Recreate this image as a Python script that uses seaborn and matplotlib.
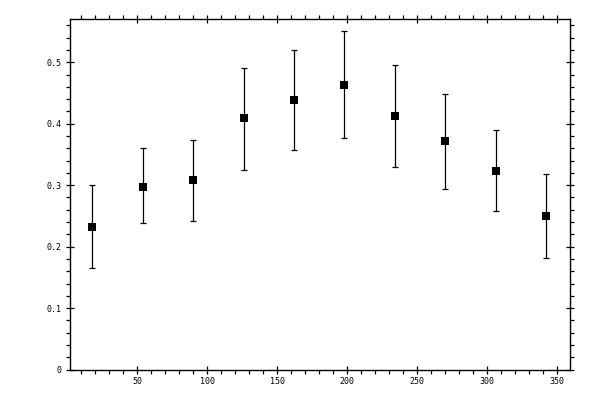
import numpy as np
import pandas as pd
import matplotlib
matplotlib.use("Agg")
import matplotlib.pyplot as plt
import seaborn as sns
from matplotlib.ticker import MultipleLocator

# valores
centros = [18, 54, 90, 126, 162, 198, 234, 270, 306, 342]
medias = [0.232, 0.297, 0.308, 0.409, 0.438, 0.463, 0.412, 0.372, 0.323, 0.250]
sup = [0.300, 0.360, 0.373, 0.491, 0.520, 0.550, 0.495, 0.448, 0.389, 0.318]
inf = [0.165, 0.238, 0.242, 0.324, 0.357, 0.376, 0.330, 0.294, 0.258, 0.181]

df = pd.DataFrame({"x": centros, "y": medias, "sup": sup, "inf": inf})

sns.set_style("ticks")
plt.rcParams["font.family"] = ["DejaVu Sans Mono", "DejaVu Sans"]

fig = plt.figure(figsize=(6, 4), dpi=100)
ax = fig.add_axes([0.116, 0.076, 0.8345, 0.876])

yerr = np.array([df["y"] - df["inf"], df["sup"] - df["y"]])
ax.errorbar(df["x"], df["y"], yerr=yerr, fmt="none", ecolor="black",
            elinewidth=0.9, capsize=2.0, capthick=0.9, zorder=2)
sns.scatterplot(data=df, x="x", y="y", marker="s", s=26, color="black",
                linewidth=0, ax=ax, zorder=3)

ax.set_xlim(1.7, 359.3)
ax.set_ylim(0, 0.57)
ax.set_xlabel("")
ax.set_ylabel("")

ax.xaxis.set_major_locator(MultipleLocator(50))
ax.xaxis.set_minor_locator(MultipleLocator(10))
ax.yaxis.set_major_locator(MultipleLocator(0.1))
ax.yaxis.set_minor_locator(MultipleLocator(0.02))
ax.yaxis.set_major_formatter(lambda v, p: "0" if abs(v) < 1e-9 else f"{v:.1f}")
ax.xaxis.set_major_formatter(lambda v, p: f"{v:.0f}")

for s in ax.spines.values():
    s.set_visible(True)
    s.set_linewidth(1.0)
    s.set_color("black")

ax.tick_params(which="major", direction="inout", length=6, width=0.9,
               top=True, right=True, labelsize=6, colors="black", pad=2.5)
ax.tick_params(which="minor", direction="out", length=2.6, width=0.9,
               top=True, right=True, colors="black")
ax.grid(False)

fig.savefig("out.png", dpi=100, facecolor="white")
